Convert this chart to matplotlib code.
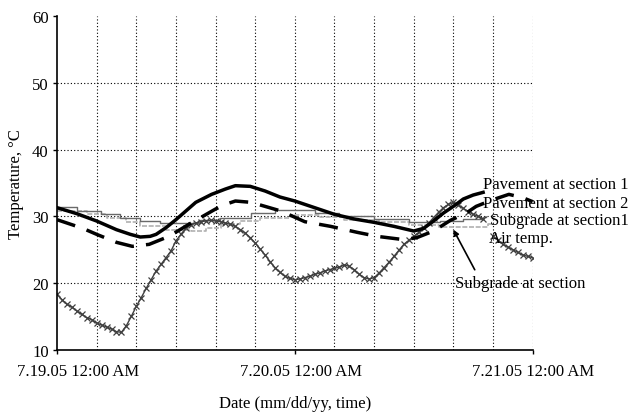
import numpy as np
import matplotlib
matplotlib.use("Agg")
import matplotlib.pyplot as plt

plt.rcParams['font.family'] = ['Liberation Serif', 'DejaVu Serif']

# hours since 7.19.05 12:00 AM
pave1_t = [0, 2, 4, 6, 7.4, 8.4, 9.4, 10, 11, 12, 13, 14, 15.6, 17, 18, 19.5, 21, 22.5,
           24, 26, 28, 30, 32, 34, 36, 37, 38, 39, 40, 41, 42, 43]
pave1_v = [31.3, 30.4, 29.3, 28.0, 27.3, 26.9, 27.0, 27.3, 28.3, 29.5, 30.8, 32.1, 33.3, 34.1, 34.6, 34.5, 33.8, 32.9,
           32.3, 31.3, 30.3, 29.6, 29.1, 28.5, 27.8, 28.2, 29.3, 30.5, 31.5, 32.6, 33.2, 33.6]

pave2_t = [0, 2.6, 4, 6, 7.6, 9.3, 11.3, 13.3, 16, 17, 18, 19.6, 22.6, 25, 27.6, 30.3, 32.3,
           35, 36.3, 38, 39.7, 41.3, 42.3, 44, 45.6, 47, 48]
pave2_v = [29.5, 28.2, 27.3, 26.1, 25.5, 25.8, 27.0, 28.8, 31.1, 31.8, 32.3, 32.1, 30.8, 29.2, 28.5, 27.6, 27.0,
           26.5, 26.8, 27.8, 29.4, 30.5, 31.5, 32.5, 33.3, 32.8, 32.2]

sub1_t = [0, 2, 4.4, 6.4, 8.4, 10.4, 14.4, 16.4, 19.6, 22, 26, 28.5, 32, 35.5, 38.6, 41, 43, 43.3]
sub1_v = [31.4, 30.8, 30.3, 29.8, 29.3, 29.0, 29.4, 29.8, 30.5, 31.0, 30.5, 30.0, 29.6, 29.2, 29.3, 29.6, 29.9, 29.9]

sub2_t = [0, 3, 5, 7, 8.4, 11, 13.5, 15, 16.5, 18.5, 20.5, 23.5, 26.5, 29, 32.5, 35.5, 38.5, 43.5, 44]
sub2_v = [30.8, 30.3, 29.7, 29.2, 28.5, 28.0, 27.8, 28.3, 28.8, 29.3, 29.8, 30.2, 29.9, 29.5, 29.1, 28.7, 28.4, 28.8, 28.8]

# air temperature, half-hourly readings (nan = gap behind the labels)
air_t = np.arange(0, 48.5, 0.5)
air_v = [18.3, 17.5, 16.8, 16.4, 15.8, 15.3, 14.8, 14.5, 14.0, 13.7, 13.4, 13.1, 12.7, 12.6, 13.6, 15.0,
         16.5, 17.8, 19.2, 20.5, 21.8, 22.8, 23.8, 24.8, 26.3, 27.3, 28.2, 28.7, 29.0, 29.2, 29.3, 29.4,
         29.3, 29.2, 29.0, 28.8, 28.5, 28.0, 27.5, 26.8, 26.0, 25.1, 24.2, 23.2, 22.3, 21.6, 21.0, 20.7,
         20.5, 20.6, 20.8, 21.0, 21.3, 21.5, 21.8, 22.0, 22.2, 22.4, 22.7, 22.5, 22.0, 21.3, 20.8, 20.6,
         20.8, 21.5, 22.3, 23.1, 24.0, 24.9, 25.8, 26.4, 27.0, 27.6, 28.3, 29.0, 29.8, 30.6, 31.3, 31.8,
         32.1, 31.7, 31.2, 30.7, 30.3, 30.0, 29.6, np.nan, 27.0, 26.4, 25.8, 25.4, 25.0, 24.6, 24.2, 24.0,
         23.8]

tick_pos = [0, 24, 48]
tick_labels = ["7.19.05 12:00 AM", "7.20.05 12:00 AM", "7.21.05 12:00 AM"]
tick_shift = [21, 6, 0]  # pixel nudges of the date labels as placed in the source

fig = plt.figure(figsize=(6.3, 4.14), dpi=100)
ax = fig.add_axes([0.0905, 0.153, 0.755, 0.805])

# dotted grid
for h in range(4, 49, 4):
    ax.axvline(h, color='black', linestyle=(0, (1, 2)), linewidth=0.8, zorder=0)
for v in [20, 30, 40, 50]:
    ax.axhline(v, color='black', linestyle=(0, (1, 2)), linewidth=0.8, zorder=0)

ax.plot(sub2_t, sub2_v, drawstyle='steps-post', color='#b0b0b0', linewidth=1.2, linestyle=(0, (3, 1)))
ax.plot(sub1_t, sub1_v, drawstyle='steps-post', color='#6a6a6a', linewidth=1.0)
ax.plot(air_t, air_v, color='#404040', linewidth=1.0, marker='x', markersize=4.5, markeredgewidth=0.9)
ax.plot(pave2_t, pave2_v, color='black', linewidth=2.5, linestyle=(0, (5.5, 3.5)))
ax.plot(pave1_t, pave1_v, color='black', linewidth=2.5)

ax.set_xlim(0, 48)
ax.set_ylim(10, 60)
ax.set_yticks([10, 20, 30, 40, 50, 60])
ax.set_xticks(tick_pos)
ax.set_xticklabels([])
ax.tick_params(axis='both', labelsize=12, direction='out', length=3, width=1, pad=3)
for s in ['top', 'right']:
    ax.spines[s].set_visible(False)
for s in ['left', 'bottom']:
    ax.spines[s].set_linewidth(1.2)

for pos, lab, dx in zip(tick_pos, tick_labels, tick_shift):
    ax.annotate(lab, xy=(pos, 0), xycoords=('data', 'axes fraction'), xytext=(dx, -13),
                textcoords='offset pixels', ha='center', va='top', fontsize=12, annotation_clip=False)

ax.set_ylabel("Temperature, \u00b0C", fontsize=12, labelpad=6)
ax.set_xlabel("Date (mm/dd/yy, time)", fontsize=12, labelpad=27)

ax.text(43.0, 34.8, "Pavement at section 1", fontsize=12, va='center', ha='left', clip_on=False)
ax.text(43.0, 32.0, "Pavement at section 2", fontsize=12, va='center', ha='left', clip_on=False)
ax.text(43.7, 29.4, "Subgrade at section1", fontsize=12, va='center', ha='left', clip_on=False)
ax.text(43.6, 26.7, "Air temp.", fontsize=12, va='center', ha='left', clip_on=False)
ax.annotate("Subgrade at section", xy=(40.0, 28.0), xytext=(40.2, 20.0), fontsize=12,
            va='center', ha='left', annotation_clip=False,
            arrowprops=dict(arrowstyle='-|>', color='black', linewidth=1.2, mutation_scale=8,
                            relpos=(0.17, 1.0), shrinkA=2, shrinkB=0))

fig.savefig("out.png", dpi=100)
